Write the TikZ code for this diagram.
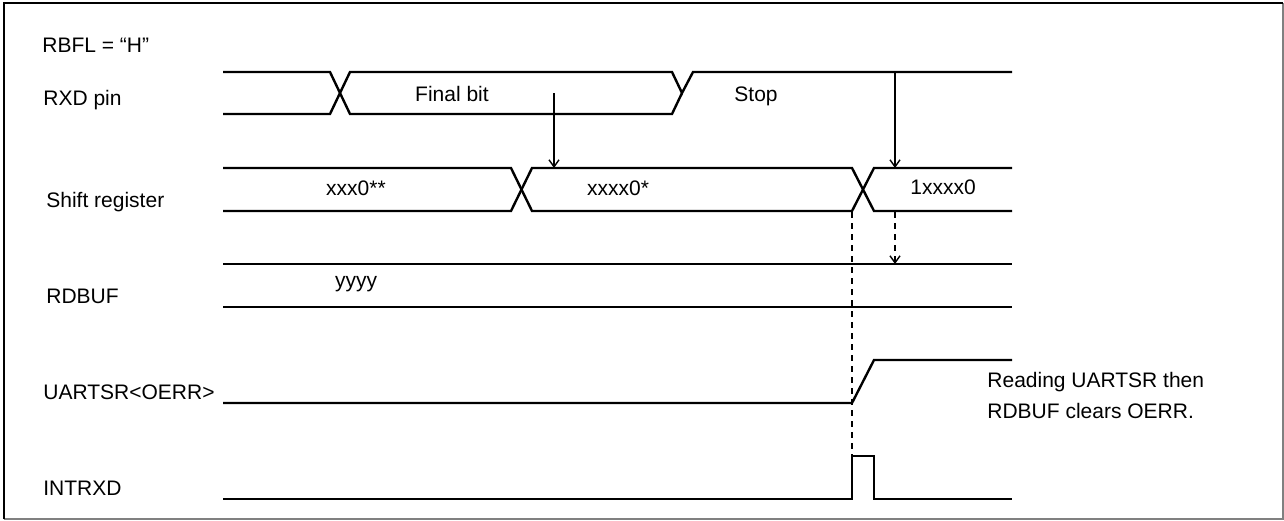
\documentclass[tikz,border=0pt]{standalone}
\usepackage{fontspec}
\setmainfont{Liberation Sans}
\usetikzlibrary{arrows.meta}
\begin{document}
\begin{tikzpicture}[x=0.5pt,y=-0.5pt,
  wave/.style={line width=1.2pt, line join=miter},
  lbl/.style={anchor=base west, inner sep=0pt, font=\fontsize{10.5pt}{12pt}\selectfont},
  val/.style={anchor=base, inner sep=0pt, font=\fontsize{10.5pt}{12pt}\selectfont},
  sample/.style={line width=0.7pt, -{Straight Barb[length=3.5pt,width=5pt]}},
  dsample/.style={sample, dash pattern=on 3pt off 2.5pt},
  guide/.style={line width=0.7pt, dash pattern=on 3pt off 2.5pt}]
\useasboundingbox (0,0) rectangle (1284,520);
% frame
\draw[gray, line width=1pt] (1283,3) -- (1283,519) -- (4,519);
\draw[black, line width=1.4pt] (4,519) -- (4,3) -- (1283,3);

% labels
\node[lbl] (l0) at (42,52) {RBFL = “H”};
\node[lbl] (l1) at (43,105) {RXD pin};
\node[lbl] (l2) at (46,207.5) {Shift register};
\node[lbl] (l3) at (46,303) {RDBUF};
\node[lbl] (l4) at (43,399) {UARTSR<OERR>};
\node[lbl] (l5) at (43,495) {INTRXD};

% RXD pin
\draw[wave] (223,72) -- (330,72) -- (350,114) -- (672,114) -- (682,93);
\draw[wave] (223,114) -- (330,114) -- (350,72) -- (672,72) -- (682,93) -- (693,72) -- (1012,72);
\node[val] (fbit) at (452,101.5) {Final bit};
\node[val] (stop) at (756,101) {Stop};

% Shift register
\draw[wave] (223,168) -- (511,168) -- (532,211) -- (852,211) -- (874,168) -- (1012,168);
\draw[wave] (223,211) -- (511,211) -- (532,168) -- (852,168) -- (874,211) -- (1012,211);
\node[val] (s1) at (356,195) {xxx0**};
\node[val] (s2) at (618,195.5) {xxxx0*};
\node[val] (s3) at (943,194.5) {1xxxx0};

% RDBUF
\draw[wave] (223,264) -- (1012,264);
\draw[wave] (223,307) -- (1012,307);
\node[val] (rb) at (356,287) {yyyy};

% UARTSR<OERR>
\draw[wave] (223,403) -- (852,403) -- (874,360) -- (1012,360);
\node[lbl] (n1) at (987,387) {Reading UARTSR then};
\node[lbl] (n2) at (987,418) {RDBUF clears OERR.};

% INTRXD
\draw[wave] (223,499) -- (852,499) -- (852,456) -- (874,456) -- (874,499) -- (1012,499);

% sampling arrows
\coordinate (a1s) at (554,93);
\coordinate (a1e) at (554,168);
\coordinate (a2s) at (895,72);
\coordinate (a2e) at (895,168);
\coordinate (a3s) at (895,212);
\coordinate (a3e) at (895,264);
\coordinate (g1s) at (852,212);
\coordinate (g1e) at (852,456);
\draw[sample] (a1s) -- (a1e);
\draw[sample] (a2s) -- (a2e);
\draw[dsample] (a3s) -- (a3e);
\draw[guide] (g1s) -- (g1e);
\end{tikzpicture}
\end{document}
